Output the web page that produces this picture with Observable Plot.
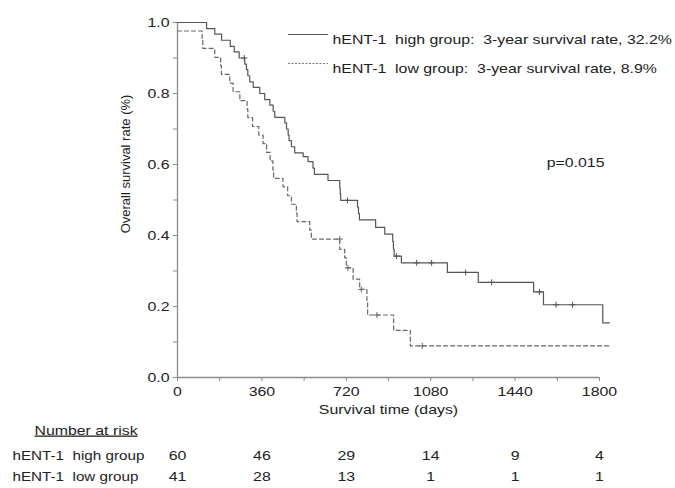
<!DOCTYPE html>
<html>
<head>
<meta charset="utf-8">
<script src="https://cdn.jsdelivr.net/npm/d3@7"></script>
<script src="https://cdn.jsdelivr.net/npm/@observablehq/plot@0.6"></script>
<style>
  html, body { margin: 0; padding: 0; background: #fff; }
  #chart { position: relative; width: 675px; height: 488px; }
  svg text { white-space: pre; }
</style>
</head>
<body>
<div id="chart"></div>
<script>
// ---- Data ----
const highTime = [0, 124, 159, 188, 225, 242, 263, 287, 294, 300, 308, 323, 351, 372, 394, 408, 415, 458, 465, 472, 476, 486, 500, 536, 557, 578, 584, 642, 692, 694, 696, 768, 772, 776, 845, 884, 918, 921, 924, 955, 1151, 1283, 1519, 1561, 1814, 1842];
const highSurv = [1.0, 0.983, 0.967, 0.950, 0.933, 0.917, 0.900, 0.883, 0.867, 0.850, 0.833, 0.817, 0.800, 0.783, 0.767, 0.750, 0.733, 0.717, 0.700, 0.683, 0.667, 0.650, 0.633, 0.622, 0.608, 0.590, 0.572, 0.555, 0.535, 0.517, 0.499, 0.480, 0.462, 0.444, 0.423, 0.404, 0.383, 0.362, 0.342, 0.323, 0.296, 0.268, 0.241, 0.205, 0.154, 0.154];
const highCensorTime = [285, 725, 934, 1020, 1084, 1229, 1340, 1544, 1615, 1685];
const highCensorSurv = [0.900, 0.499, 0.342, 0.323, 0.323, 0.296, 0.268, 0.241, 0.205, 0.205];

const lowTime = [0, 105, 108, 159, 184, 187, 223, 237, 266, 297, 300, 320, 347, 365, 380, 395, 407, 410, 450, 470, 486, 507, 510, 564, 571, 692, 713, 720, 749, 777, 808, 811, 922, 993, 1842];
const lowSurv = [0.976, 0.951, 0.927, 0.902, 0.878, 0.854, 0.829, 0.805, 0.780, 0.756, 0.732, 0.707, 0.683, 0.659, 0.634, 0.610, 0.585, 0.561, 0.537, 0.512, 0.488, 0.463, 0.439, 0.415, 0.390, 0.361, 0.337, 0.309, 0.277, 0.248, 0.212, 0.176, 0.133, 0.089, 0.089];
const lowCensorTime = [692, 727, 784, 851, 1044];
const lowCensorSurv = [0.390, 0.309, 0.248, 0.176, 0.089];

const xTicks = [0, 180, 360, 540, 720, 900, 1080, 1260, 1440, 1620, 1800];
const yTicks = [0, 0.1, 0.2, 0.3, 0.4, 0.5, 0.6, 0.7, 0.8, 0.9, 1.0];

const riskDays = [0, 360, 720, 1080, 1440, 1800];
const riskHigh = [60, 46, 29, 14, 9, 4];
const riskLow = [41, 28, 13, 1, 1, 1];

const groupNames = ["hENT-1  high group", "hENT-1  low group"];
const legendTexts = ["hENT-1  high group:  3-year survival rate, 32.2%", "hENT-1  low group:  3-year survival rate, 8.9%"];
const pText = "p=0.015";
const xTitle = "Survival time (days)";
const yTitle = "Overall survival rate (%)";
const riskTitle = "Number at risk";

// ---- Build tables ----
const high = highTime.map((t, i) => ({t, s: highSurv[i]}));
const low = lowTime.map((t, i) => ({t, s: lowSurv[i]}));
const highC = highCensorTime.map((t, i) => ({t, s: highCensorSurv[i]}));
const lowC = lowCensorTime.map((t, i) => ({t, s: lowCensorSurv[i]}));
const riskH = riskDays.map((d, i) => ({d, n: riskHigh[i]}));
const riskL = riskDays.map((d, i) => ({d, n: riskLow[i]}));

const font = "'Liberation Sans', Arial, sans-serif";
const textColor = "#222";
const axisColor = "#8a8a8a";
const curveColor = "#555";
const fs = 13;

const chart = Plot.plot({
  width: 675,
  height: 488,
  marginLeft: 177,
  marginRight: 76,
  marginTop: 22,
  marginBottom: 111,
  style: {fontFamily: font, fontSize: fs + "px", color: textColor, background: "#fff"},
  x: {domain: [0, 1800]},
  y: {domain: [0, 1]},
  marks: [
    Plot.axisX(xTicks, {tickFormat: d => d % 360 === 0 ? String(d) : "", tickSize: 4, tickPadding: 5, stroke: axisColor, fill: textColor, fontSize: fs, label: null}),
    Plot.axisY(yTicks, {tickFormat: d => Math.round(d * 10) % 2 === 0 ? d.toFixed(1) : "", tickSize: 4, tickPadding: 4, stroke: axisColor, fill: textColor, fontSize: fs, label: null}),
    Plot.ruleX([0], {stroke: axisColor, strokeWidth: 1.3}),
    Plot.ruleY([0], {stroke: axisColor, strokeWidth: 1.3}),
    Plot.line(high, {x: "t", y: "s", curve: "step-after", stroke: curveColor, strokeWidth: 1.2}),
    Plot.line(low, {x: "t", y: "s", curve: "step-after", stroke: "#666", strokeWidth: 1.2, strokeDasharray: "4,3"}),
    Plot.dot(highC, {x: "t", y: "s", symbol: "plus", r: 2.1, stroke: curveColor, strokeWidth: 1}),
    Plot.dot(lowC, {x: "t", y: "s", symbol: "plus", r: 2.1, stroke: "#666", strokeWidth: 1}),
    // titles
    Plot.text([xTitle], {frameAnchor: "bottom", dy: 36, fill: textColor, fontSize: fs}),
    Plot.text([yTitle], {frameAnchor: "left", textAnchor: "middle", dx: -52, dy: -36, rotate: -90, fill: textColor, fontSize: fs}),
    // legend text and p-value
    Plot.text([legendTexts[0]], {frameAnchor: "top-left", textAnchor: "start", dx: 155, dy: 12, fill: textColor, fontSize: fs}),
    Plot.text([legendTexts[1]], {frameAnchor: "top-left", textAnchor: "start", dx: 155, dy: 41, fill: textColor, fontSize: fs}),
    Plot.text([pText], {frameAnchor: "top-right", textAnchor: "end", dx: 5, dy: 135, fill: textColor, fontSize: fs}),
    // number at risk table
    Plot.text([riskTitle], {frameAnchor: "bottom-left", textAnchor: "start", dx: -143, dy: 57, fill: textColor, fontSize: fs}),
    Plot.text([groupNames[0]], {frameAnchor: "bottom-left", textAnchor: "start", dx: -165, dy: 82, fill: textColor, fontSize: fs}),
    Plot.text([groupNames[1]], {frameAnchor: "bottom-left", textAnchor: "start", dx: -165, dy: 103, fill: textColor, fontSize: fs}),
    Plot.text(riskH, {x: "d", text: d => String(d.n), frameAnchor: "bottom", dy: 82, fill: textColor, fontSize: fs}),
    Plot.text(riskL, {x: "d", text: d => String(d.n), frameAnchor: "bottom", dy: 103, fill: textColor, fontSize: fs})
  ]
});

document.getElementById("chart").appendChild(chart);

// Post-render: reference typography is horizontally wide; stretch horizontal text glyphs
const svg = d3.select(chart);
svg.selectAll("text").each(function() {
  const tr = this.getAttribute("transform") || "";
  if (tr.includes("rotate")) return;
  if (!this.textContent) return;
  const w = this.getComputedTextLength();
  if (w > 0) {
    const k = groupNames.includes(this.textContent) ? 1.17 : 1.22;
    this.setAttribute("textLength", (w * k).toFixed(1));
    this.setAttribute("lengthAdjust", "spacingAndGlyphs");
  }
});
svg.selectAll("text").filter(function() { return this.textContent === riskTitle; })
  .style("text-decoration", "underline");
const g = svg.append("g");
g.append("line").attr("x1", 288).attr("x2", 328).attr("y1", 34.5).attr("y2", 34.5)
  .attr("stroke", curveColor).attr("stroke-width", 1.2);
g.append("line").attr("x1", 288).attr("x2", 328).attr("y1", 63.5).attr("y2", 63.5)
  .attr("stroke", "#777").attr("stroke-width", 1).attr("stroke-dasharray", "2,1.5");
</script>
</body>
</html>
